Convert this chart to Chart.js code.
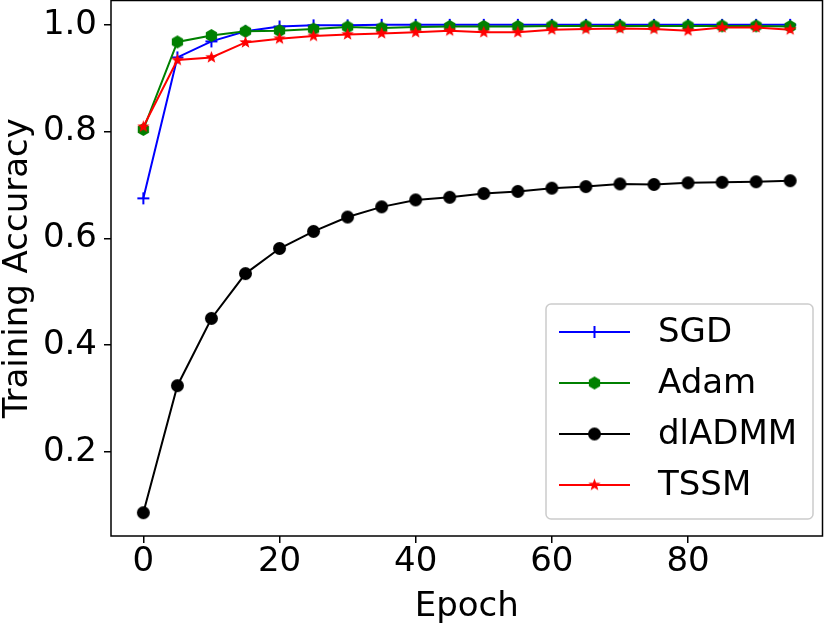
<!DOCTYPE html>
<html lang="en">
<head>
  <meta charset="UTF-8">
  <title>Training Accuracy</title>
  <script src="https://cdn.jsdelivr.net/npm/chart.js"></script>
  <style>
    body { margin: 0; background: #fff; overflow: hidden; }
    /* chart.js keeps ~8px above the plot anyway; pull the canvas up */
    #wrap { width: 831px; height: 634px; margin-top: -8px; }
  </style>
</head>
<body>
  <div id="wrap"><canvas id="accChart"></canvas></div>

  <script>
    // values
    const epochs = [0, 5, 10, 15, 20, 25, 30, 35, 40, 45, 50, 55, 60, 65, 70, 75, 80, 85, 90, 95];
    const sgd    = [0.675, 0.939, 0.969, 0.988, 0.997, 0.999, 0.999, 1.0, 1.0, 1.0, 1.0, 1.0, 1.0, 1.0, 1.0, 1.0, 1.0, 1.0, 1.0, 1.0];
    const adam   = [0.804, 0.968, 0.980, 0.988, 0.989, 0.992, 0.996, 0.994, 0.996, 0.997, 0.997, 0.997, 0.998, 0.998, 0.998, 0.998, 0.998, 0.998, 0.998, 0.997];
    const dladmm = [0.086, 0.324, 0.450, 0.534, 0.581, 0.613, 0.640, 0.659, 0.672, 0.677, 0.684, 0.688, 0.694, 0.697, 0.702, 0.701, 0.704, 0.705, 0.706, 0.708];
    const tssm   = [0.809, 0.934, 0.939, 0.967, 0.974, 0.979, 0.982, 0.984, 0.986, 0.989, 0.986, 0.986, 0.991, 0.992, 0.993, 0.992, 0.989, 0.995, 0.995, 0.991];
    const xTicks = [0, 20, 40, 60, 80];
    const yTicks = [0.2, 0.4, 0.6, 0.8, 1.0];

    const FONT = "'DejaVu Sans', sans-serif";
    const FS = 34;
    const SHIFT = 8; // canvas sits 8px higher than the page

    // matplotlib-ish markers as little canvases
    function marker(kind, color, r) {
      const c = document.createElement('canvas');
      const s = Math.ceil(r * 2 + 4);
      c.width = s; c.height = s;
      const g = c.getContext('2d');
      const m = s / 2;
      g.fillStyle = color; g.strokeStyle = color;
      if (kind === 'plus') {
        g.lineWidth = 2;
        g.beginPath();
        g.moveTo(m - r, m); g.lineTo(m + r, m);
        g.moveTo(m, m - r); g.lineTo(m, m + r);
        g.stroke();
      } else if (kind === 'hex') {
        g.beginPath();
        for (let i = 0; i < 6; i++) {
          const a = -Math.PI / 2 + i * Math.PI / 3;
          g.lineTo(m + r * Math.cos(a), m + r * Math.sin(a));
        }
        g.closePath(); g.fill();
      } else if (kind === 'star') {
        g.beginPath();
        for (let i = 0; i < 10; i++) {
          const a = -Math.PI / 2 + i * Math.PI / 5;
          const rr = i % 2 ? r * 0.42 : r;
          g.lineTo(m + rr * Math.cos(a), m + rr * Math.sin(a));
        }
        g.closePath(); g.fill();
      } else {
        g.beginPath(); g.arc(m, m, r, 0, Math.PI * 2); g.fill();
      }
      return c;
    }

    function series(label, ys, color, kind, r, order) {
      return {
        label: label,
        data: epochs.map((e, i) => ({ x: e, y: ys[i] })),
        borderColor: color,
        backgroundColor: color,
        borderWidth: 2,
        pointStyle: marker(kind, color, r),
        pointRadius: r,
        tension: 0,
        order: order
      };
    }

    // frame + legend box like matplotlib
    const frameAndLegend = {
      id: 'frameAndLegend',
      afterDraw(chart) {
        const { ctx, chartArea: a } = chart;
        ctx.save();
        ctx.strokeStyle = '#000';
        ctx.lineWidth = 1.5;
        ctx.strokeRect(a.left, a.top, a.right - a.left, a.bottom - a.top);

        const bx = 546, by = 304 + SHIFT, bw = 267, bh = 215;
        ctx.beginPath();
        ctx.roundRect(bx, by, bw, bh, 5);
        ctx.fillStyle = 'rgba(255,255,255,0.8)';
        ctx.fill();
        ctx.strokeStyle = '#cccccc';
        ctx.lineWidth = 1.5;
        ctx.stroke();

        ctx.font = FS + 'px ' + FONT;
        ctx.textBaseline = 'middle';
        chart.data.datasets.forEach((ds, i) => {
          const y = 332 + SHIFT + i * 51;
          ctx.strokeStyle = ds.borderColor;
          ctx.lineWidth = 2;
          ctx.beginPath(); ctx.moveTo(559, y); ctx.lineTo(630, y); ctx.stroke();
          const img = ds.pointStyle;
          ctx.drawImage(img, 594.5 - img.width / 2, y - img.height / 2);
          ctx.fillStyle = '#000';
          ctx.fillText(ds.label, 658, y + 1);
        });
        ctx.restore();
      }
    };

    const noPad = s => { s.paddingTop = 0; s.paddingBottom = 0; s.paddingLeft = 0; s.paddingRight = 0; };

    const ctx = document.getElementById('accChart').getContext('2d');
    new Chart(ctx, {
      type: 'line',
      data: {
        datasets: [
          series('SGD', sgd, '#0000ff', 'plus', 6, 4),
          series('Adam', adam, '#008000', 'hex', 6.5, 3),
          series('dlADMM', dladmm, '#000000', 'circle', 6.5, 2),
          series('TSSM', tssm, '#ff0000', 'star', 6.5, 1)
        ]
      },
      options: {
        responsive: true,
        maintainAspectRatio: false,
        animation: false,
        layout: { padding: { top: 1, right: 1, left: 0, bottom: 0 } },
        plugins: { legend: { display: false }, tooltip: { enabled: false } },
        scales: {
          x: {
            type: 'linear',
            min: -4.75,
            max: 99.75,
            afterFit: s => { s.height = 90; noPad(s); },
            afterBuildTicks: s => { s.ticks = xTicks.map(v => ({ value: v })); },
            grid: { drawOnChartArea: false, drawTicks: true, tickLength: 7, color: '#000', lineWidth: 1.5 },
            border: { display: false },
            ticks: { color: '#000', font: { family: FONT, size: FS }, padding: -1, maxRotation: 0 },
            title: { display: true, text: 'Epoch', color: '#000', font: { family: FONT, size: FS }, padding: { top: 0, bottom: -2 } }
          },
          y: {
            type: 'linear',
            min: 0.0424,
            max: 1.0456,
            afterFit: s => { s.width = 111; noPad(s); },
            afterBuildTicks: s => { s.ticks = yTicks.map(v => ({ value: v })); },
            grid: { drawOnChartArea: false, drawTicks: true, tickLength: 7, color: '#000', lineWidth: 1.5 },
            border: { display: false },
            ticks: { color: '#000', font: { family: FONT, size: FS }, padding: 7, callback: v => v.toFixed(1) },
            title: { display: true, text: 'Training Accuracy', color: '#000', font: { family: FONT, size: FS, lineHeight: 1 }, padding: { top: 1, bottom: 0 } }
          }
        }
      },
      plugins: [frameAndLegend]
    });
  </script>
</body>
</html>
